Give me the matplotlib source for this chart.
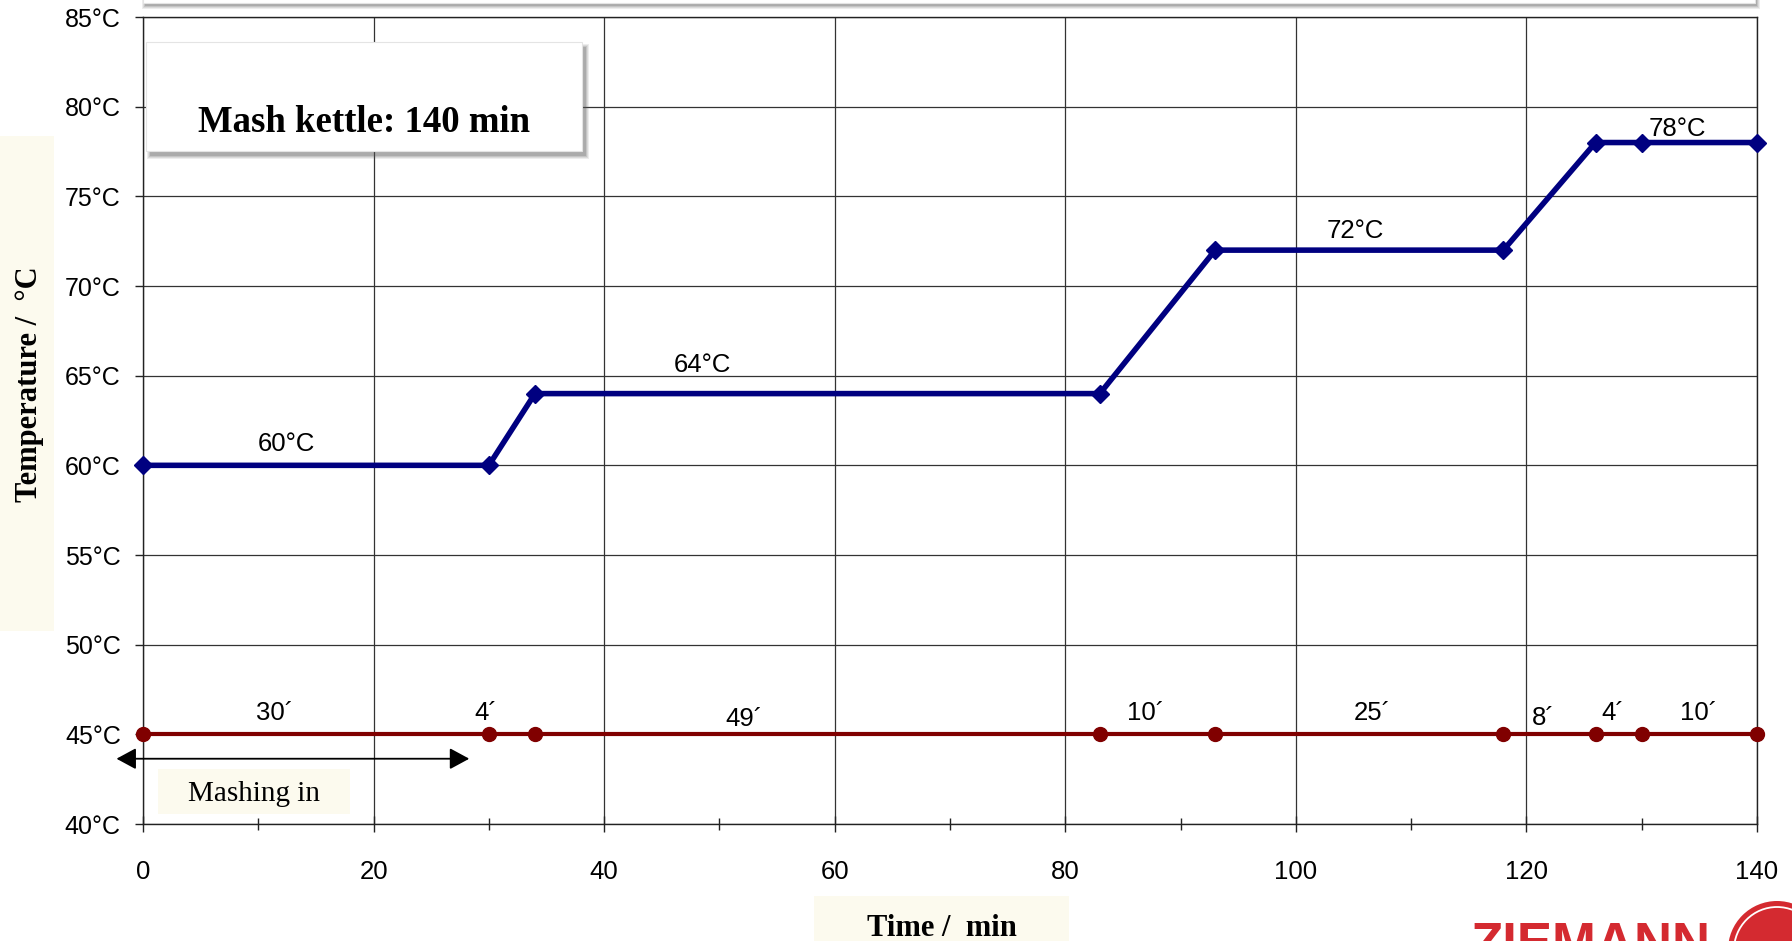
import matplotlib
matplotlib.use("Agg")
import matplotlib.pyplot as plt
from matplotlib.patches import Rectangle, Ellipse

# ---- data ----
time_pts = [0, 30, 34, 83, 93, 118, 126, 130, 140]
temp_pts = [60, 60, 64, 64, 72, 72, 78, 78, 78]
base_pts = [45, 45, 45, 45, 45, 45, 45, 45, 45]

temp_labels = ["60°C", "64°C", "72°C", "78°C"]
temp_lab_x = [12.4, 48.5, 105.2, 133.1]
temp_lab_y = [61.2, 65.6, 73.05, 78.75]

dur_labels = ["30´", "4´", "49´", "10´", "25´", "8´", "4´", "10´"]
dur_lab_x = [11.4, 29.7, 52.1, 87.0, 106.6, 121.5, 127.5, 134.9]
dur_lab_y = [46.2, 46.2, 45.85, 46.2, 46.2, 45.9, 46.2, 46.2]

y_ticks = [40, 45, 50, 55, 60, 65, 70, 75, 80, 85]
y_tick_labels = ["40°C", "45°C", "50°C", "55°C", "60°C", "65°C", "70°C", "75°C", "80°C", "85°C"]
x_ticks = [0, 20, 40, 60, 80, 100, 120, 140]
x_minor = [10, 30, 50, 70, 90, 110, 130]

SANS = ["Liberation Sans", "DejaVu Sans"]
SERIF = ["Liberation Serif", "DejaVu Serif"]

W, H = 1792, 941
fig = plt.figure(figsize=(W / 100, H / 100), dpi=100)
fig.patch.set_facecolor("white")

L, R, T, B = 143, 1757, 17, 824
ax = fig.add_axes([L / W, 1 - B / H, (R - L) / W, (B - T) / H])
ax.set_xlim(0, 140)
ax.set_ylim(40, 85)

ax.set_xticks(x_ticks)
ax.set_xticks(x_minor, minor=True)
ax.set_yticks(y_ticks)
ax.set_yticklabels(y_tick_labels, fontfamily=SANS, fontsize=18)
ax.set_xticklabels([str(v) for v in x_ticks], fontfamily=SANS, fontsize=18.5)

ax.grid(True, which="major", color="#333333", lw=0.9)
ax.set_axisbelow(True)
for s in ax.spines.values():
    s.set_color("#222222")
    s.set_linewidth(1.0)
ax.tick_params(axis="x", which="major", direction="inout", length=11.5, width=1.0, pad=20, color="#222222")
ax.tick_params(axis="x", which="minor", direction="inout", length=9, width=1.0, color="#222222")
ax.tick_params(axis="y", which="major", direction="out", length=6, width=1.0, pad=10, color="#222222")

# series
ax.plot(time_pts, base_pts, color="#800000", lw=3.0, marker="o", ms=10,
        mfc="#800000", mec="#800000", clip_on=False, zorder=4)
ax.plot(time_pts, temp_pts, color="#000080", lw=4.0, marker="D", ms=9,
        mfc="#000080", mec="#000080", clip_on=False, zorder=5)

for t, x, y in zip(temp_labels, temp_lab_x, temp_lab_y):
    ax.text(x, y, t, ha="center", va="center", fontsize=18.5, fontfamily=SANS, zorder=6)
for t, x, y in zip(dur_labels, dur_lab_x, dur_lab_y):
    ax.text(x, y, t, ha="center", va="center", fontsize=18.5, fontfamily=SANS, zorder=6)

# mashing-in arrow
ax.annotate("", xy=(28.3, 43.64), xytext=(-2.3, 43.64),
            arrowprops=dict(arrowstyle="<|-|>,head_length=1.2,head_width=0.65",
                            color="black", lw=1.3, shrinkA=0, shrinkB=0,
                            mutation_scale=10),
            annotation_clip=False, zorder=6)

def fbox(x0, y0, x1, y1, **kw):
    """rectangle in figure pixel coords (y from top)"""
    r = Rectangle((x0 / W, 1 - y1 / H), (x1 - x0) / W, (y1 - y0) / H,
                  transform=fig.transFigure, **kw)
    fig.patches.append(r)
    return r

def shadow_box(x0, y0, x1, y1, dx=4, dy=5):
    for i, a in enumerate([0.10, 0.12, 0.16, 0.22]):
        g = 3 - i
        fbox(x0 + dx - g, y0 + dy - g, x1 + dx + g, y1 + dy + g,
             facecolor="#555555", edgecolor="none", alpha=a, zorder=8)
    fbox(x0, y0, x1, y1, facecolor="white", edgecolor="#e4e4e4", lw=0.8, zorder=9)

# top box (cut off at the top of the figure)
shadow_box(143, -40, 1755, 3, dx=2, dy=3)

# Mash kettle box
shadow_box(146, 42, 582, 151)
fig.text(364 / W, 1 - 122 / H, "Mash kettle: 140 min", ha="center", va="center",
         fontsize=26.5, fontweight="bold", fontfamily=SERIF, zorder=10)

# Mashing in label
fbox(158, 769, 350, 814, facecolor="#fcfaee", edgecolor="none", zorder=8)
fig.text(254 / W, 1 - 794 / H, "Mashing in", ha="center", va="center",
         fontsize=21, fontfamily=SERIF, zorder=10)

# y label
fbox(0, 136, 54, 631, facecolor="#fcfaee", edgecolor="none", zorder=8)
fig.text(30 / W, 1 - 384 / H, "Temperature /  °C", ha="center", va="center", rotation=90,
         fontsize=22, fontweight="bold", fontfamily=SERIF, zorder=10)

# x label
fbox(814, 896, 1069, 945, facecolor="#fcfaee", edgecolor="none", zorder=8)
fig.text(942 / W, 1 - 928 / H, "Time /  min", ha="center", va="center",
         fontsize=22, fontweight="bold", fontfamily=SERIF, zorder=10)

# logo (partially cut off)
fig.text(1470 / W, 1 - 921 / H, "ZIEMANN", ha="left", va="top", color="#d42a30",
         fontsize=38, fontweight="bold", fontfamily=SANS, zorder=10)
cx, cy, r = 1777, 950, 49
fig.patches.append(Ellipse((cx / W, 1 - cy / H), 2 * r / W, 2 * r / H,
                           transform=fig.transFigure, facecolor="#d42a30",
                           edgecolor="none", zorder=10))
fig.patches.append(Ellipse((cx / W, 1 - cy / H), 2 * (r - 6) / W, 2 * (r - 6) / H,
                           transform=fig.transFigure, facecolor="none",
                           edgecolor="white", lw=1.3, zorder=11))

fig.savefig("out.png", dpi=100)
